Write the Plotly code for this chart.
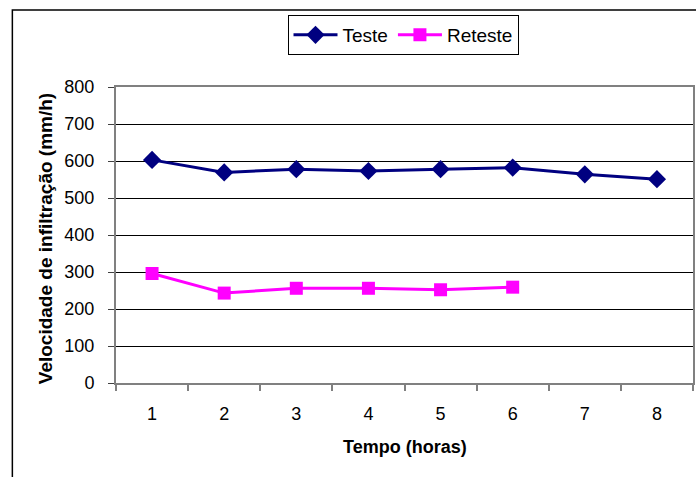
import plotly.graph_objects as go

horas = ["1", "2", "3", "4", "5", "6", "7", "8"]
teste = [603, 569, 578, 573, 578, 582, 564, 551]
reteste_horas = ["1", "2", "3", "4", "5", "6"]
reteste = [296, 243, 256, 256, 252, 259]
y_ticks = [0, 100, 200, 300, 400, 500, 600, 700, 800]

W, H = 696, 477
L, R, T, B = 116, 1, 87, 94
pw, ph = W - L - R, H - T - B

def px_x(x):
    return (x - L) / pw

def px_y(y):
    return (H - B - y) / ph

font = "Liberation Sans, Arial, sans-serif"

fig = go.Figure()
fig.add_trace(go.Scatter(
    x=horas, y=teste, name="Teste", mode="lines+markers",
    line=dict(color="#000080", width=3),
    marker=dict(symbol="diamond", size=14, color="#000080"),
))
fig.add_trace(go.Scatter(
    x=reteste_horas, y=reteste, name="Reteste", mode="lines+markers",
    line=dict(color="#FF00FF", width=3),
    marker=dict(symbol="square", size=13, color="#FF00FF"),
))

fig.update_layout(
    width=W, height=H,
    margin=dict(l=L, r=R, t=T, b=B, pad=0),
    paper_bgcolor="white", plot_bgcolor="white",
    font=dict(family=font, size=18, color="black"),
    showlegend=True,
    legend=dict(
        orientation="h", x=px_x(404), y=px_y(15), xanchor="center", yanchor="top",
        bordercolor="black", borderwidth=1, bgcolor="white",
        font=dict(size=19), itemwidth=44, tracegroupgap=0,
    ),
    xaxis=dict(
        type="category", categoryorder="array", categoryarray=horas,
        range=[-0.5, 7.5], tickson="boundaries", ticks="outside", ticklen=6,
        tickcolor="#808080", tickwidth=1.5,
        showline=True, linecolor="#808080", linewidth=2, mirror=True,
        showgrid=False, ticklabelstandoff=13, fixedrange=True,
        tickfont=dict(size=18),
    ),
    yaxis=dict(
        range=[0, 800], tickvals=y_ticks, ticks="outside", ticklen=6,
        tickcolor="#404040", tickwidth=1,
        showline=True, linecolor="#808080", linewidth=2, mirror=True,
        showgrid=True, gridcolor="black", gridwidth=1, zeroline=False,
        ticklabelstandoff=10, fixedrange=True,
        tickfont=dict(size=18),
    ),
    annotations=[
        dict(text="<b>Velocidade de infiltração (mm/h)</b>", xref="paper", yref="paper",
             x=px_x(45), y=px_y(239), textangle=-90, showarrow=False,
             xanchor="center", yanchor="middle", font=dict(size=19)),
        dict(text="<b>Tempo (horas)</b>", xref="paper", yref="paper",
             x=px_x(406), y=px_y(447), showarrow=False,
             xanchor="center", yanchor="middle", font=dict(size=18)),
    ],
    shapes=[
        dict(type="rect", xref="paper", yref="paper",
             x0=px_x(12), y0=-0.5, x1=1.05, y1=px_y(10),
             line=dict(color="black", width=1.5), layer="below"),
    ],
)

fig.write_html("out.html")
